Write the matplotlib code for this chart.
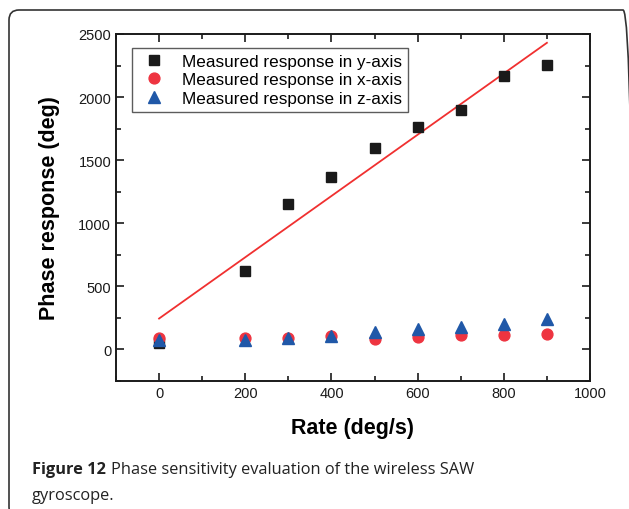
import matplotlib
matplotlib.use("Agg")
from matplotlib import pyplot as plt
from matplotlib.patches import FancyBboxPatch
from matplotlib.ticker import MultipleLocator

rate = [0, 200, 300, 400, 500, 600, 700, 800, 900]
y_axis = [53, 620, 1150, 1365, 1595, 1760, 1895, 2165, 2255]
x_axis = [90, 90, 88, 105, 85, 95, 112, 117, 125]
z_axis = [75, 75, 92, 108, 135, 160, 178, 205, 238]
fit_x = [0, 900]
fit_y = [245, 2430]

labels = ["Measured response in y-axis",
          "Measured response in x-axis",
          "Measured response in z-axis"]

plt.rcParams['font.family'] = ['Liberation Sans', 'DejaVu Sans']

fig = plt.figure(figsize=(6.29, 5.10), dpi=100)

# rounded frame around the figure (inches)
frame = FancyBboxPatch((0.09, -0.08), 6.24, 5.07,
                       boxstyle="round,pad=0,rounding_size=0.1",
                       transform=fig.dpi_scale_trans, fill=False,
                       edgecolor='#333333', linewidth=1.2)
fig.patches.append(frame)

ax = fig.add_axes([0.1844, 0.251, 0.7536, 0.6804])

ax.plot(fit_x, fit_y, color='#f03030', linewidth=1.3, zorder=1)
ax.plot(rate, y_axis, 's', color='#1a1a1a', markersize=6.5, label=labels[0], zorder=2)
ax.plot(rate, x_axis, 'o', color='#ee3440', markersize=7.8, label=labels[1], zorder=3)
ax.plot(rate, z_axis, '^', color='#2058a8', markersize=8, label=labels[2], zorder=4)

ax.set_xlim(-100, 1000)
ax.set_ylim(-250, 2500)
ax.xaxis.set_major_locator(MultipleLocator(200))
ax.xaxis.set_minor_locator(MultipleLocator(100))
ax.yaxis.set_major_locator(MultipleLocator(500))
ax.yaxis.set_minor_locator(MultipleLocator(250))
ax.tick_params(which='both', direction='in', top=True, right=True, width=1.2,
               labelsize=10.5, colors='#1a1a1a')
ax.tick_params(which='major', length=6)
ax.tick_params(which='minor', length=3.5)
for s in ax.spines.values():
    s.set_linewidth(1.4)
    s.set_color('#1a1a1a')

ax.set_xlabel("Rate (deg/s)", fontsize=15.5, fontweight='bold', labelpad=12)
ax.set_ylabel("Phase response (deg)", fontsize=15.5, fontweight='bold', labelpad=13)

leg = ax.legend(loc='upper left', bbox_to_anchor=(0.015, 0.985), fontsize=12.3,
                fancybox=False, edgecolor='#333333', handletextpad=0.7,
                borderpad=0.35, labelspacing=0.22, handlelength=1.9)
leg.get_frame().set_linewidth(1.0)

cap_font = ['Open Sans', 'DejaVu Sans']
t1 = fig.text(32 / 629, 1 - 474 / 510, "Figure 12", fontsize=11.8, fontweight='bold',
              family=cap_font, color='#222222', va='baseline')
fig.canvas.draw()
bb = t1.get_window_extent()
fig.text((bb.x1 + 5) / 629, 1 - 474 / 510, "Phase sensitivity evaluation of the wireless SAW",
         fontsize=11.8, family=cap_font, color='#222222', va='baseline')
fig.text(32 / 629, 1 - 500 / 510, "gyroscope.", fontsize=11.8,
         family=cap_font, color='#222222', va='baseline')

fig.savefig("out.png", dpi=100)
